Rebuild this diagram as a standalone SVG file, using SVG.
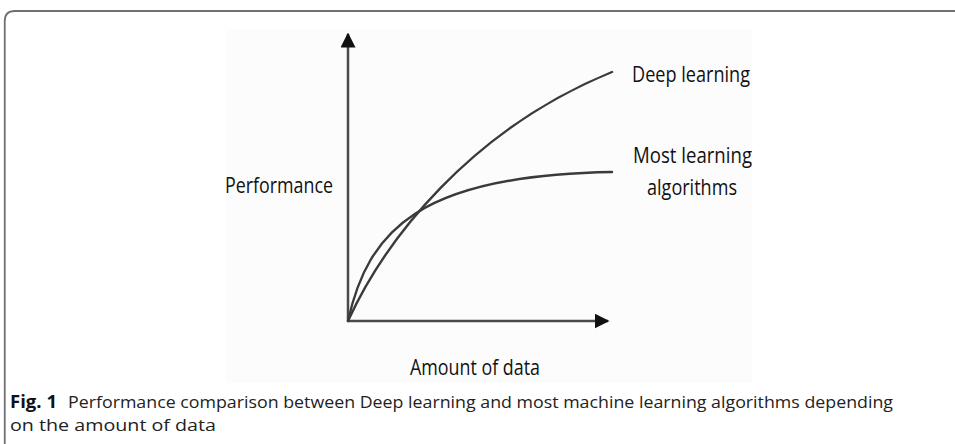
<svg xmlns="http://www.w3.org/2000/svg" width="955" height="444" viewBox="0 0 955 444">
  <style>
    .axis { stroke: #4a4a4a; stroke-width: 2.5; fill: none; }
    .curve { stroke: #3a3a3a; stroke-width: 2.4; fill: none; stroke-linecap: round; }
    .lbl { font-family: "Open Sans", "Liberation Sans", sans-serif; font-size: 22px; fill: #111; }
    .cap { font-family: "Open Sans", "Liberation Sans", sans-serif; font-size: 17px; fill: #222; }
    .capb { font-family: "Open Sans", "Liberation Sans", sans-serif; font-size: 17px; font-weight: bold; fill: #111; }
  </style>
  <defs>
    <marker id="arrow" viewBox="0 0 10 10" refX="9" refY="5" markerWidth="6" markerHeight="6" markerUnits="strokeWidth" orient="auto">
      <path d="M0,0 L10,5 L0,10 Z" fill="#111"/>
    </marker>
  </defs>
  <rect width="955" height="444" fill="#ffffff"/>

  <!-- figure frame, open to the right and bottom -->
  <path d="M4.75,444 V21 Q4.75,11 14.75,11 H955" fill="none" stroke="#707070" stroke-width="1.8"/>

  <!-- plot area backdrop -->
  <rect x="226" y="29" width="526" height="354" fill="#fcfcfc"/>

  <!-- axes -->
  <g id="axes">
    <line class="axis" x1="348" y1="321" x2="348" y2="34" marker-end="url(#arrow)"/>
    <line class="axis" x1="348" y1="321" x2="608" y2="321" marker-end="url(#arrow)"/>
  </g>

  <!-- performance curves -->
  <g id="connectors">
    <path id="deep-learning-curve" class="curve" d="M348,321 C385,240 470,130 612,72"/>
    <path id="most-learning-curve" class="curve" d="M348,321 C368,230 420,175 612,172"/>
  </g>

  <g id="y-label"><text class="lbl" x="225" y="193" textLength="108" lengthAdjust="spacingAndGlyphs">Performance</text></g>
  <g id="x-label"><text class="lbl" x="410" y="375" textLength="130" lengthAdjust="spacingAndGlyphs">Amount of data</text></g>
  <g id="deep-label"><text class="lbl" x="632" y="82" textLength="118" lengthAdjust="spacingAndGlyphs">Deep learning</text></g>
  <g id="most-label">
    <text class="lbl" x="633" y="163" textLength="119" lengthAdjust="spacingAndGlyphs">Most learning</text>
    <text class="lbl" x="647" y="195" textLength="90" lengthAdjust="spacingAndGlyphs">algorithms</text>
  </g>

  <!-- caption -->
  <g id="caption">
    <text class="capb" x="10" y="408" textLength="47" lengthAdjust="spacingAndGlyphs">Fig. 1</text>
    <text class="cap" x="68" y="408" textLength="825" lengthAdjust="spacingAndGlyphs">Performance comparison between Deep learning and most machine learning algorithms depending</text>
    <text class="cap" x="10" y="431" textLength="206" lengthAdjust="spacingAndGlyphs">on the amount of data</text>
  </g>
</svg>
